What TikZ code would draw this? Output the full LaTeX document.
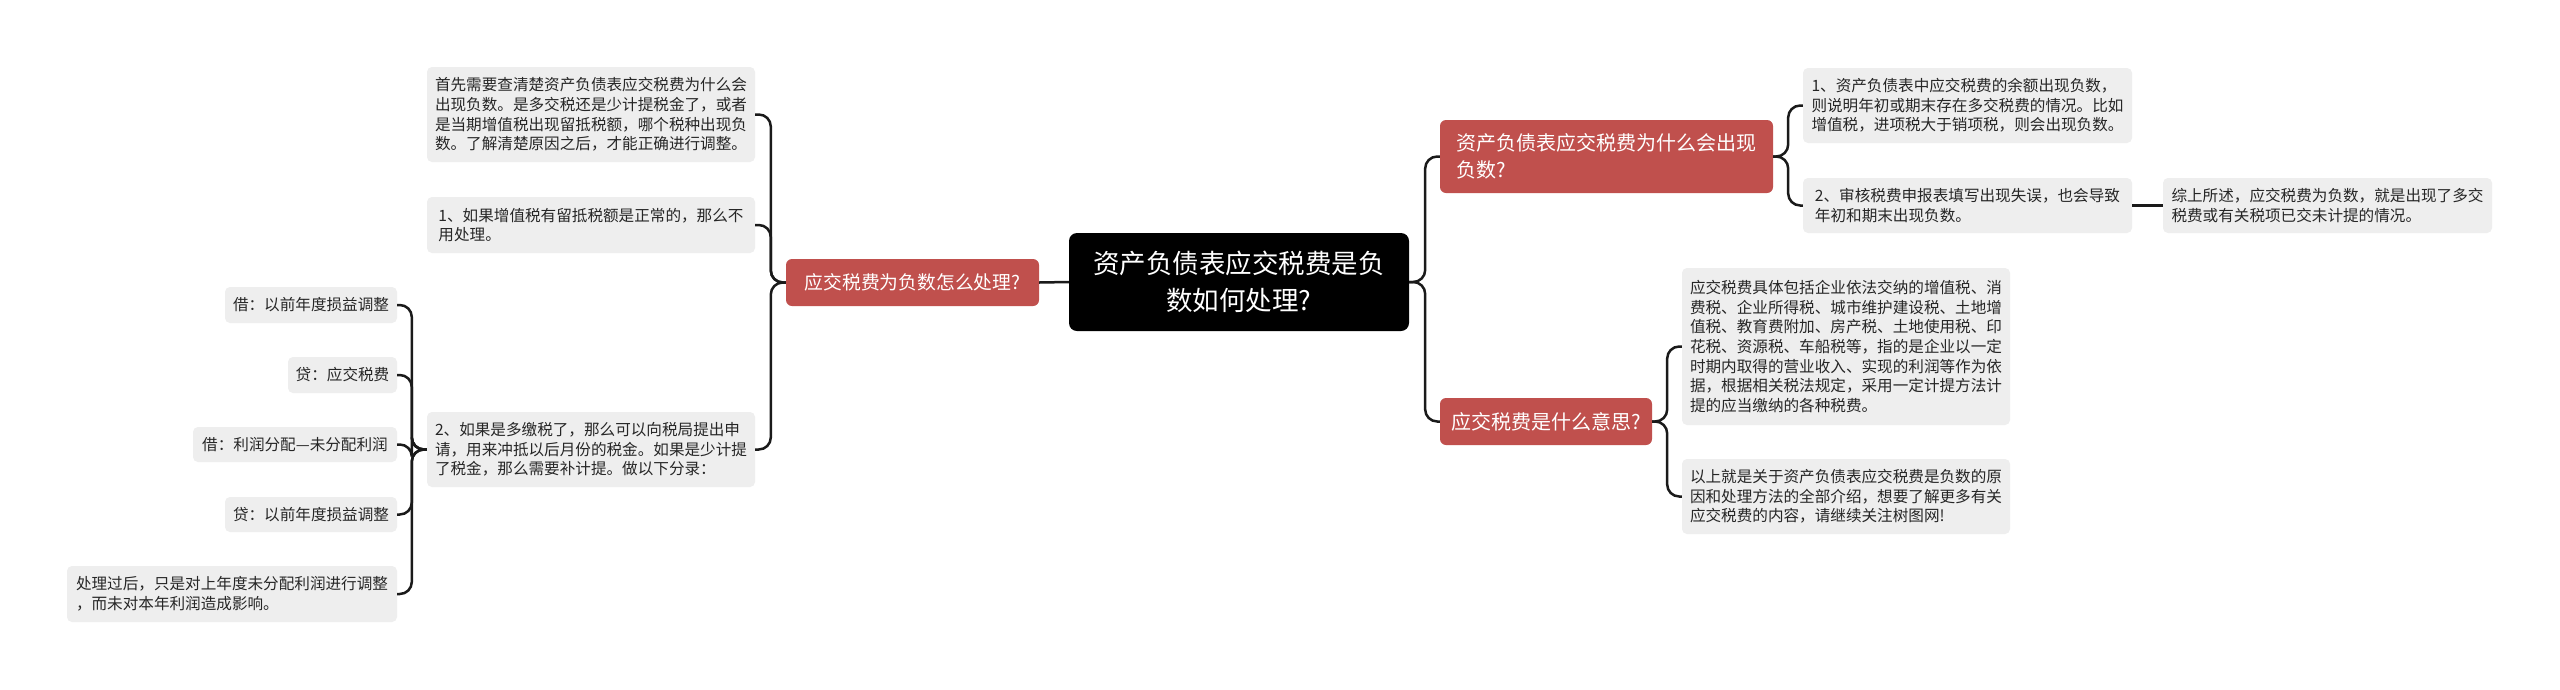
\documentclass[tikz,border=0pt]{standalone}
\usepackage{fontspec}
\setmainfont{Noto Sans CJK SC}
\usetikzlibrary{calc}
\definecolor{leafbg}{RGB}{238,238,238}
\definecolor{redbg}{RGB}{192,80,77}
\definecolor{leaftxt}{RGB}{38,38,38}
\definecolor{linec}{RGB}{26,26,26}
\tikzset{
  leaf/.style={fill=leafbg, rounded corners=5pt, text=leaftxt, font=\fontsize{15.6}{19.6}\selectfont, align=left, inner sep=0pt},
  lvlone/.style={fill=redbg, rounded corners=6pt, text=white, font=\fontsize{20}{27}\selectfont, align=left, inner sep=0pt},
  rootbox/.style={fill=black, rounded corners=8pt, text=white, font=\fontsize{26.5}{37}\selectfont, align=center, inner sep=0pt},
  conn/.style={draw=linec, line width=2.5pt, rounded corners=12pt}
}
\begin{document}
\begin{tikzpicture}[x=1pt,y=-1pt]
\fill[white] (0,0) rectangle (2560,689);
\useasboundingbox (0,0) rectangle (2560,689);

% root
\node[rootbox, minimum width=340, minimum height=98] (root) at (1239,282) {资产负债表应交税费是负\\数如何处理?};

% level one
\node[lvlone, minimum width=253, minimum height=47, font=\fontsize{18.8}{25}\selectfont] (lq) at (912.5,282.5) {应交税费为负数怎么处理?};
\node[lvlone, minimum width=333, minimum height=73] (rqa) at (1606.5,156.5) {资产负债表应交税费为什么会出现\\负数?};
\node[lvlone, minimum width=212, minimum height=47] (rqb) at (1546,421.5) {应交税费是什么意思?};

% left leaves
\node[leaf, minimum width=328, minimum height=95] (a1) at (591,114.5) {首先需要查清楚资产负债表应交税费为什么会\\出现负数。是多交税还是少计提税金了，或者\\是当期增值税出现留抵税额，哪个税种出现负\\数。了解清楚原因之后，才能正确进行调整。};
\node[leaf, minimum width=328, minimum height=56] (a2) at (591,225) {1、如果增值税有留抵税额是正常的，那么不\\用处理。};
\node[leaf, minimum width=328, minimum height=75] (a3) at (591,449.5) {2、如果是多缴税了，那么可以向税局提出申\\请，用来冲抵以后月份的税金。如果是少计提\\了税金，那么需要补计提。做以下分录：};

\node[leaf, minimum width=172, minimum height=36] (b1) at (311,305) {借：以前年度损益调整};
\node[leaf, minimum width=109, minimum height=36] (b2) at (342.5,375) {贷：应交税费};
\node[leaf, minimum width=204, minimum height=35] (b3) at (295,444.5) {借：利润分配—未分配利润};
\node[leaf, minimum width=172, minimum height=35] (b4) at (311,514.5) {贷：以前年度损益调整};
\node[leaf, minimum width=330, minimum height=56] (b5) at (232,594) {处理过后，只是对上年度未分配利润进行调整\\，而未对本年利润造成影响。};

% right leaves
\node[leaf, minimum width=329, minimum height=75] (c1) at (1967.5,105.5) {1、资产负债表中应交税费的余额出现负数，\\则说明年初或期末存在多交税费的情况。比如\\增值税，进项税大于销项税，则会出现负数。};
\node[leaf, minimum width=329, minimum height=55] (c2) at (1967.5,205.5) {2、审核税费申报表填写出现失误，也会导致\\年初和期末出现负数。};
\node[leaf, minimum width=329, minimum height=55] (d1) at (2327.5,205.5) {综上所述，应交税费为负数，就是出现了多交\\税费或有关税项已交未计提的情况。};
\node[leaf, minimum width=328, minimum height=157] (e1) at (1846,346.5) {应交税费具体包括企业依法交纳的增值税、消\\费税、企业所得税、城市维护建设税、土地增\\值税、教育费附加、房产税、土地使用税、印\\花税、资源税、车船税等，指的是企业以一定\\时期内取得的营业收入、实现的利润等作为依\\据，根据相关税法规定，采用一定计提方法计\\提的应当缴纳的各种税费。};
\node[leaf, minimum width=328, minimum height=75] (e2) at (1846,496.5) {以上就是关于资产负债表应交税费是负数的原\\因和处理方法的全部介绍，想要了解更多有关\\应交税费的内容，请继续关注树图网!};

% connectors
\draw[conn] (root.west) -- (lq.east);
\foreach \c in {a1,a2,a3} \draw[conn] (lq.west) -- ++(-15,0) |- (\c.east);
\foreach \c in {b1,b2,b3,b4,b5} \draw[conn] (a3.west) -- ++(-15,0) |- (\c.east);
\foreach \c in {rqa,rqb} \draw[conn] (root.east) -- ++(16,0) |- (\c.west);
\foreach \c in {c1,c2} \draw[conn] (rqa.east) -- ++(15,0) |- (\c.west);
\draw[conn] (c2.east) -- (d1.west);
\foreach \c in {e1,e2} \draw[conn] (rqb.east) -- ++(15,0) |- (\c.west);
\end{tikzpicture}
\end{document}
